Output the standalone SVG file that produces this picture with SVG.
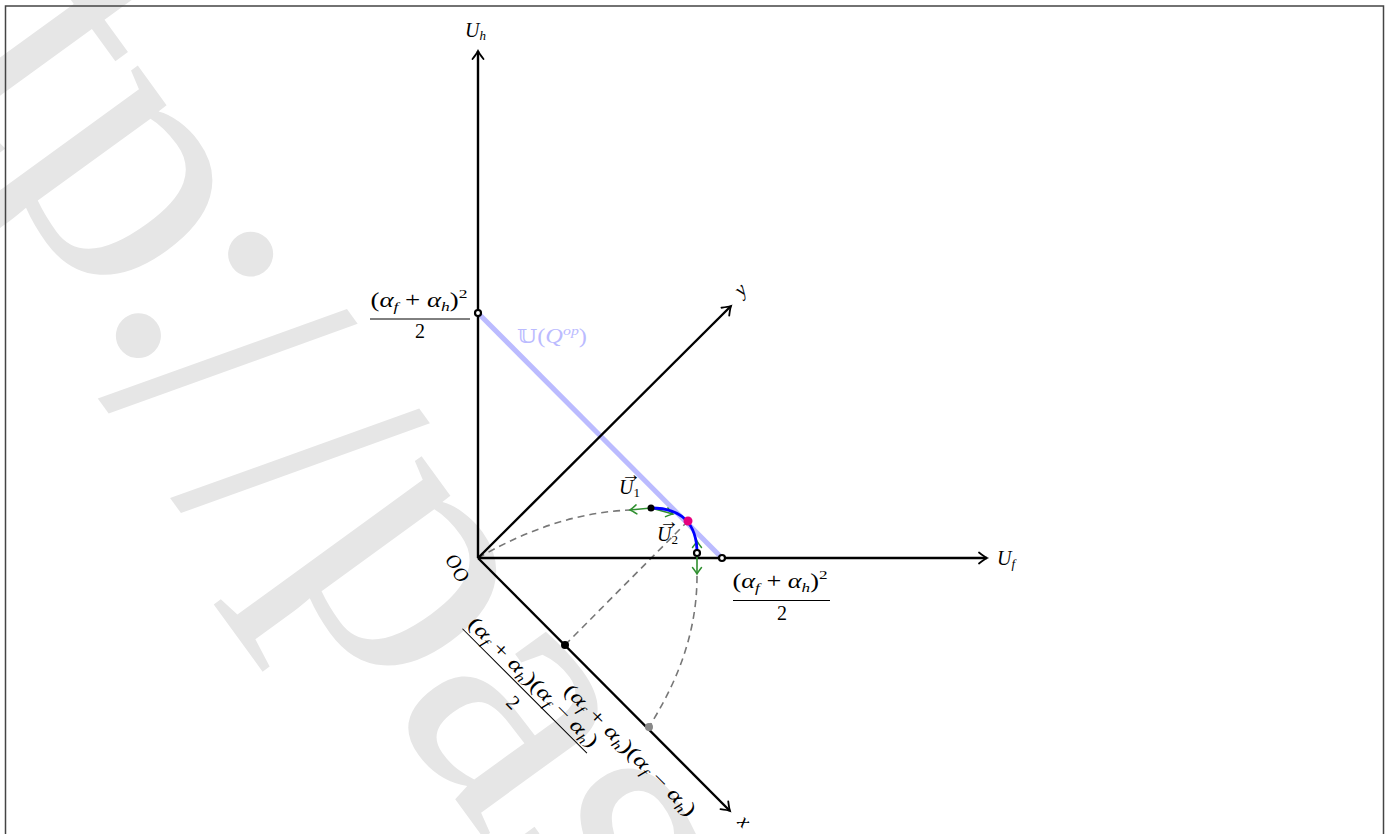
<svg xmlns="http://www.w3.org/2000/svg" width="1391" height="834" viewBox="0 0 1391 834">
<style>
.m{font-family:"Liberation Serif",serif;font-size:20px;fill:#000}
.i{font-style:italic}
.s{font-size:13px}
.ax{stroke:#000;stroke-width:2.4;fill:none}
.dash{stroke:#777;stroke-width:1.6;fill:none;stroke-dasharray:7 5}
.gr{stroke:#2f8f2f;stroke-width:1.6;fill:none}
.wm{font-family:"Liberation Serif",serif;font-size:380px;fill:#e6e6e6}
</style>
<defs>
<marker id="ah" markerUnits="userSpaceOnUse" markerWidth="20" markerHeight="20" refX="0" refY="0" viewBox="-10 -10 20 20" orient="auto" overflow="visible">
<path d="M-8,-5.5 Q-2.5,-1.2 0,0 Q-2.5,1.2 -8,5.5" stroke="#000" stroke-width="1.8" fill="none" stroke-linecap="round"/>
</marker>
<marker id="ahg" markerUnits="userSpaceOnUse" markerWidth="20" markerHeight="20" refX="0" refY="0" viewBox="-10 -10 20 20" orient="auto" overflow="visible">
<path d="M-6.5,-4.5 Q-2,-1 0,0 Q-2,1 -6.5,4.5" stroke="#2f8f2f" stroke-width="1.5" fill="none" stroke-linecap="round"/>
</marker>
</defs>
<rect width="1391" height="834" fill="#fff"/>
<g id="watermark">
<text class="wm" transform="translate(112,405) rotate(54)"><tspan x="-669" y="-46">http</tspan><tspan x="-93" y="-45">:</tspan><tspan x="215" y="-46">pascal.delahaye1.free.fr/</tspan></text>
<text class="wm" transform="translate(112,405) rotate(54) skewX(3)" font-size="520"><tspan x="-14" y="4">/</tspan><tspan x="109" y="4">/</tspan></text>
</g>
<rect x="5.5" y="6" width="1378" height="840" fill="none" stroke="#444" stroke-width="1.5"/>
<g id="connectors">
<path class="dash" d="M478,558 C530,528 580,512 630,510"/>
<path class="dash" d="M697,576 C697,640 672,690 649,727"/>
<path class="dash" d="M565,645 L688,521"/>
<line x1="478" y1="313" x2="722" y2="558" stroke="#bbbbff" stroke-width="5"/>
<line class="ax" x1="478" y1="558" x2="478" y2="51" marker-end="url(#ah)"/>
<line class="ax" x1="478" y1="558" x2="987" y2="558" marker-end="url(#ah)"/>
<line class="ax" x1="478" y1="558" x2="731" y2="306" marker-end="url(#ah)"/>
<line class="ax" x1="478" y1="558" x2="730" y2="811" marker-end="url(#ah)"/>
<line class="gr" x1="651" y1="508" x2="630" y2="510" marker-end="url(#ahg)"/>
<line class="gr" x1="651" y1="508" x2="673" y2="514" marker-end="url(#ahg)"/>
<line class="gr" x1="697" y1="553" x2="697" y2="541" marker-end="url(#ahg)"/>
<line class="gr" x1="697" y1="553" x2="697" y2="574" marker-end="url(#ahg)"/>
<path d="M651,508 C682,508 697,524 697,553" stroke="#0000ff" stroke-width="2.8" fill="none"/>
</g>
<g id="axis-labels">
<text class="m i" x="465" y="37" font-size="22">U<tspan class="s" dy="3">h</tspan></text>
<text class="m i" x="997" y="565" font-size="22">U<tspan class="s" dy="3">f</tspan></text>
<text class="m i" transform="translate(745,294) rotate(-45)" text-anchor="middle" font-size="20">y</text>
<text class="m i" transform="translate(740,826) rotate(45)" text-anchor="middle" font-size="20">x</text>
<text class="m i" transform="translate(449,566) rotate(45)" text-anchor="middle" font-size="20">O</text>
<text class="m i" transform="translate(456,579) rotate(45)" text-anchor="middle" font-size="20">O</text>
</g>
<g id="node-uh-value">
<circle cx="478" cy="313" r="3" fill="#fff" stroke="#000" stroke-width="2.2"/>
<text class="m" x="419" y="307" text-anchor="middle" textLength="97" lengthAdjust="spacingAndGlyphs">(<tspan class="i">α</tspan><tspan class="i s" dy="4">f</tspan><tspan dy="-4"> + </tspan><tspan class="i">α</tspan><tspan class="i s" dy="4">h</tspan><tspan dy="-4">)</tspan><tspan class="s" dy="-9">2</tspan></text>
<line x1="370" y1="319" x2="470" y2="319" stroke="#000" stroke-width="1"/>
<text class="m" x="420" y="338" text-anchor="middle">2</text>
</g>
<g id="node-uf-value">
<circle cx="722" cy="558" r="3" fill="#fff" stroke="#000" stroke-width="2.2"/>
<text class="m" x="780" y="588" text-anchor="middle" textLength="95" lengthAdjust="spacingAndGlyphs">(<tspan class="i">α</tspan><tspan class="i s" dy="4">f</tspan><tspan dy="-4"> + </tspan><tspan class="i">α</tspan><tspan class="i s" dy="4">h</tspan><tspan dy="-4">)</tspan><tspan class="s" dy="-9">2</tspan></text>
<line x1="733" y1="600.5" x2="830" y2="600.5" stroke="#000" stroke-width="1"/>
<text class="m" x="782" y="620" text-anchor="middle">2</text>
</g>
<g id="node-uq">
<text class="m" x="517" y="343" style="fill:#bbbbff" font-size="22" textLength="70" lengthAdjust="spacingAndGlyphs"><tspan font-family="DejaVu Serif, DejaVu Sans, serif" font-size="19">𝕌</tspan>(<tspan class="i">Q</tspan><tspan class="i s" dy="-8">op</tspan><tspan dy="8">)</tspan></text>
</g>
<g id="node-u1">
<circle cx="651" cy="508" r="3.5" fill="#000"/>
<text class="m i" x="619" y="494" font-size="21">U<tspan class="s" font-style="normal" dy="3">1</tspan></text>
<text class="m" x="621" y="481" font-size="12">→</text>
</g>
<g id="node-u2">
<circle cx="697" cy="553" r="3" fill="#fff" stroke="#000" stroke-width="2.2"/>
<text class="m i" x="657" y="541" font-size="21">U<tspan class="s" font-style="normal" dy="3">2</tspan></text>
<text class="m" x="659" y="528" font-size="12">→</text>
</g>
<g id="node-opt">
<circle cx="688" cy="521" r="4.5" fill="#e6007e"/>
</g>
<g id="node-x1">
<circle cx="565" cy="645" r="4" fill="#000"/>
<g transform="translate(565,645) rotate(45)">
<text class="m" x="4" y="55" text-anchor="middle" textLength="175" lengthAdjust="spacingAndGlyphs">(<tspan class="i">α</tspan><tspan class="i s" dy="4">f</tspan><tspan dy="-4"> + </tspan><tspan class="i">α</tspan><tspan class="i s" dy="4">h</tspan><tspan dy="-4">)(</tspan><tspan class="i">α</tspan><tspan class="i s" dy="4">f</tspan><tspan dy="-4"> − </tspan><tspan class="i">α</tspan><tspan class="i s" dy="4">h</tspan><tspan dy="-4">)</tspan></text>
<line x1="-84" y1="61" x2="92" y2="61" stroke="#000" stroke-width="1"/>
<text class="m" x="4" y="84" text-anchor="middle">2</text>
</g>
</g>
<g id="node-x2">
<circle cx="649" cy="727" r="4" fill="#888"/>
<g transform="translate(649,727) rotate(45)">
<text class="m" x="3" y="36" text-anchor="middle" textLength="178" lengthAdjust="spacingAndGlyphs">(<tspan class="i">α</tspan><tspan class="i s" dy="4">f</tspan><tspan dy="-4"> + </tspan><tspan class="i">α</tspan><tspan class="i s" dy="4">h</tspan><tspan dy="-4">)(</tspan><tspan class="i">α</tspan><tspan class="i s" dy="4">f</tspan><tspan dy="-4"> − </tspan><tspan class="i">α</tspan><tspan class="i s" dy="4">h</tspan><tspan dy="-4">)</tspan></text>
</g>
</g>
</svg>
